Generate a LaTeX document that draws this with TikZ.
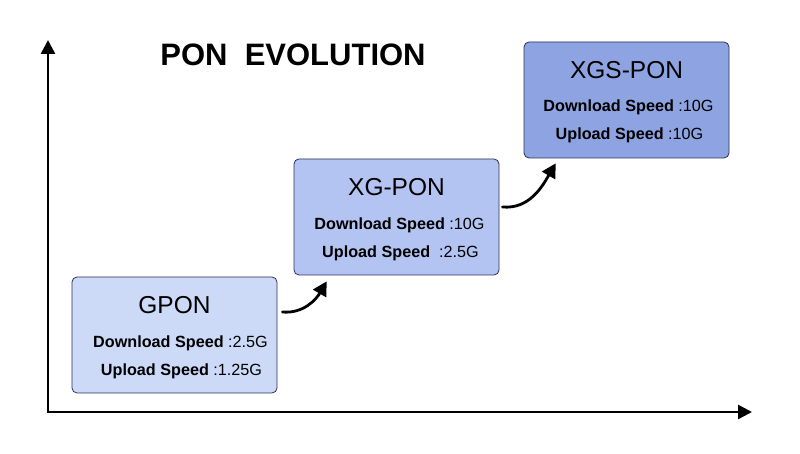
\documentclass[tikz,border=0pt]{standalone}
\usepackage{fontspec}
\setmainfont{Liberation Sans}
\usetikzlibrary{calc}
\usetikzlibrary{arrows.meta}
\usetikzlibrary{positioning}
\definecolor{ponedge}{HTML}{2A2F5A}
\definecolor{gponfill}{HTML}{CCDAF8}
\definecolor{xgponfill}{HTML}{B4C4F2}
\definecolor{xgsponfill}{HTML}{8DA3E2}
\tikzset{
  ponbox/.style={draw=ponedge,line width=0.8pt,rounded corners=5pt,
    minimum width=205pt,minimum height=116pt,inner sep=0pt},
  pontitle/.style={font=\fontsize{24.5}{26}\selectfont},
  ponline/.style={font=\fontsize{16.2}{18}\selectfont},
  axis/.style={line width=2.6pt,-{Triangle[length=14pt,width=14pt]}},
  stepup/.style={line width=2.8pt,line cap=round,-{Triangle[length=14pt,width=15pt]}}
}

\begin{document}
\begin{tikzpicture}[x=1pt,y=1pt]
    \useasboundingbox (0,0) rectangle (800,454);
    \coordinate (origin) at (48,42);
    \coordinate (ytip) at (48,414);
    \coordinate (xtip) at (752,42);
    \draw[axis] (origin) -- (ytip);
    \draw[axis] ([xshift=-1.3pt]origin) -- (xtip);
    \node[font=\fontsize{31}{33}\selectfont\bfseries] (title) at (293,399) {PON\ \ EVOLUTION};
    % the three generations
    \node[ponbox,fill=gponfill] (gpon) at (174.5,119) {};
    \node[ponbox,fill=xgponfill] (xgpon) at (396.5,237) {};
    \node[ponbox,fill=xgsponfill] (xgspon) at (626.5,354) {};
    \begin{scope}
      \node[pontitle] (gpont) at ($(gpon)+(0,30)$) {GPON};
      \node[ponline] (gpond) at ($(gpon)+(6,-8)$) {\textbf{Download Speed} :2.5G};
      \node[ponline] (gponu) at ($(gpon)+(7,-36)$) {\textbf{Upload Speed} :1.25G};
      \node[pontitle] (xgpont) at ($(xgpon)+(0,30)$) {XG-PON};
      \node[ponline] (xgpond) at ($(xgpon)+(3,-8)$) {\textbf{Download Speed} :10G};
      \node[ponline] (xgponu) at ($(xgpon)+(4,-36)$) {\textbf{Upload Speed} \ :2.5G};
      \node[pontitle] (xgspont) at ($(xgspon)+(0,30)$) {XGS-PON};
      \node[ponline] (xgspond) at ($(xgspon)+(2,-7)$) {\textbf{Download Speed} :10G};
      \node[ponline] (xgsponu) at ($(xgspon)+(3,-35)$) {\textbf{Upload Speed} :10G};
    \end{scope}
    % steps between them
    \coordinate (s1) at ($(gpon.east)+(5,23)$);
    \coordinate (e1) at ($(xgpon.south west)+(33,-6)$);
    \coordinate (s2) at ($(xgpon.east)+(3,10)$);
    \coordinate (e2) at ($(xgspon.south west)+(32,-5)$);
    \draw[stepup] (s1) to[out=-5,in=-120] (e1);
    \draw[stepup] (s2) to[out=-5,in=-120] (e2);
  \end{tikzpicture}
\end{document}
